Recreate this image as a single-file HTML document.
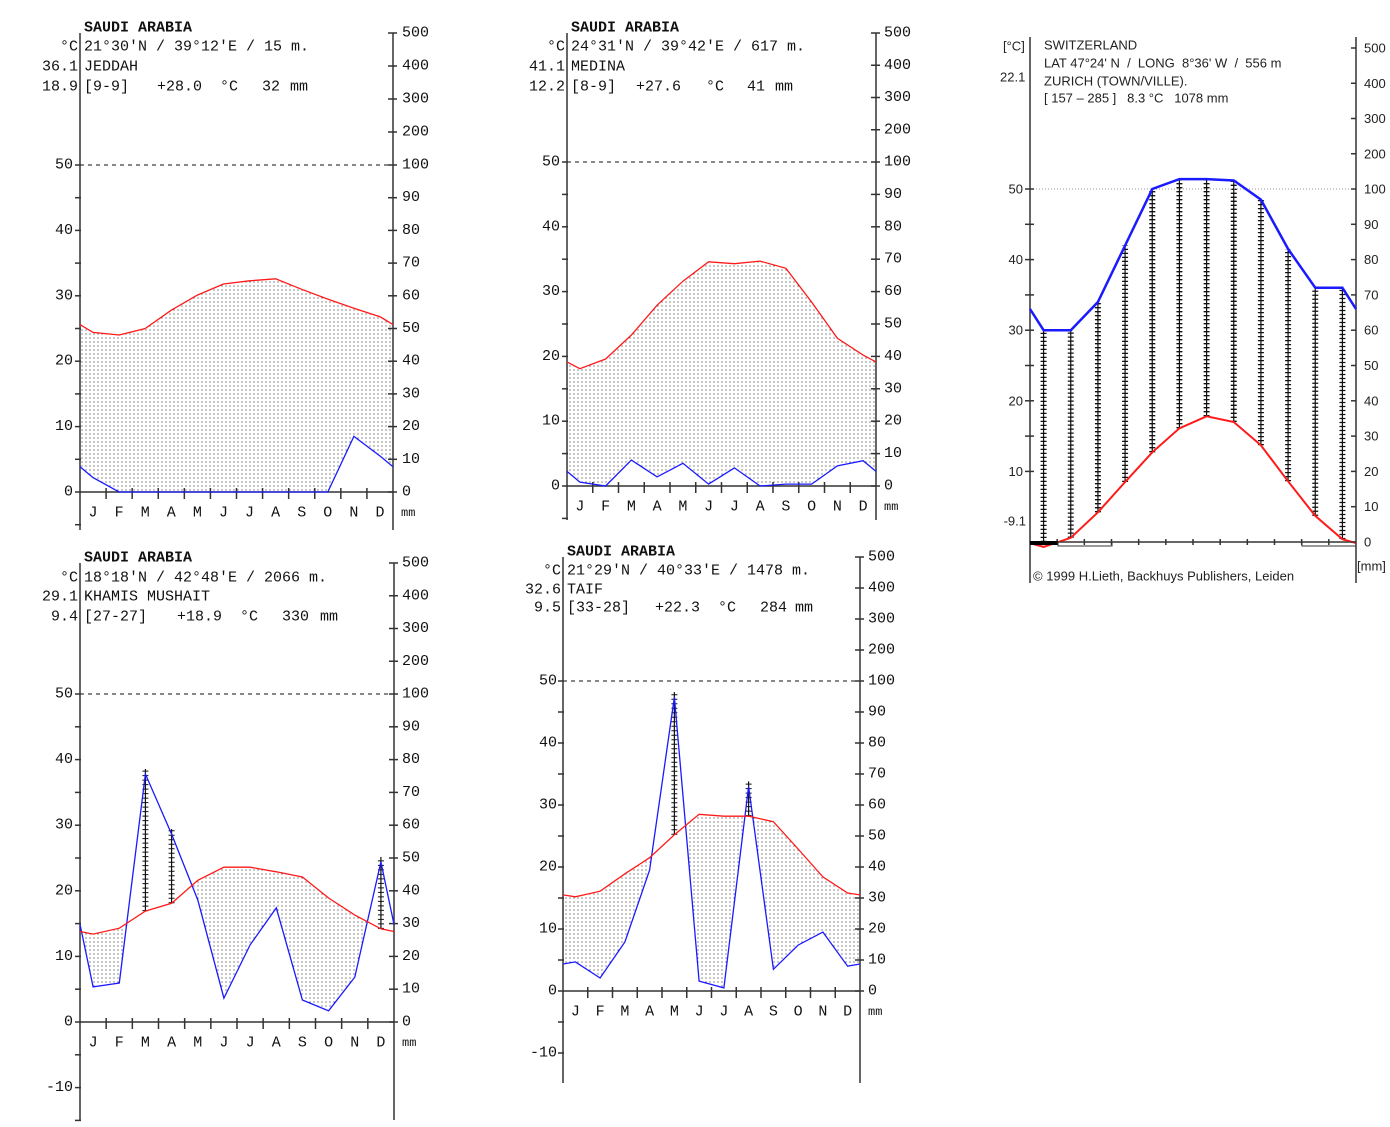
<!DOCTYPE html>
<html><head><meta charset="utf-8"><style>
html,body{margin:0;padding:0;background:#fff;}
svg{display:block;}
text{white-space:pre;}
.m{font-family:"Liberation Mono",monospace;font-size:15px;fill:#111;}
.b{font-weight:bold;}
.s{font-family:"Liberation Sans",sans-serif;font-size:13px;fill:#222;}
</style></head><body>
<svg id="c" width="1390" height="1127" viewBox="0 0 1390 1127" xmlns="http://www.w3.org/2000/svg">
<defs>
<pattern id="dots" width="4" height="4" patternUnits="userSpaceOnUse">
<rect x="1.5" y="1.5" width="1" height="1" fill="#222"/>
</pattern>
</defs>
</svg>
<script>
const months = ["J","F","M","A","M","J","J","A","S","O","N","D"];
const jeddahTemp = [24.4,24.0,25.0,27.8,30.1,31.8,32.3,32.6,31.0,29.5,28.1,26.8];
const jeddahPrec = [4.4,0,0,0,0,0,0,0,0,0,17,11];
const medinaTemp = [18.1,19.6,23.3,27.9,31.6,34.6,34.3,34.7,33.6,28.4,22.8,20.2];
const medinaPrec = [1.2,0,8,2.8,7,0.6,5.6,0,0.6,0.6,6.2,7.8];
const khamisTemp = [13.4,14.3,16.9,18.1,21.6,23.6,23.6,22.9,22.1,18.9,16.3,14.2];
const khamisPrec = [10.7,11.9,75.6,57.3,37.2,7.3,23.5,34.8,6.7,3.4,13.7,48.8];
const taifTemp = [15.2,16.1,18.9,21.5,25.2,28.5,28.2,28.2,27.3,22.9,18.4,15.8];
const taifPrec = [9.4,4.2,15.8,39,94.8,3.2,1,66,7,14.8,19,8];
const zurichTemp = [-0.7,0.6,4.2,8.5,12.7,16.1,17.8,17.0,13.7,8.6,3.7,0.4];
const zurichPrec = [60,60,68,84,100,128,128,124,97,83,72,72];
const leftTicks = [-10,0,10,20,30,40,50];
const rightTicksLow = [0,10,20,30,40,50,60,70,80,90,100];
const rightTicksHigh = [200,300,400,500];

const NS="http://www.w3.org/2000/svg";
const svg=document.getElementById('c');
function el(tag,attrs,parent,text){const e=document.createElementNS(NS,tag);for(const k in attrs)e.setAttribute(k,attrs[k]);if(text!==undefined)e.textContent=text;(parent||svg).appendChild(e);return e;}

function draw(cfg){
  const g=el('g',{});
  
  
  const w=(cfg.x1-cfg.x0)/12;
  const ppd=(cfg.y0-cfg.y50)/50;
  const yT=t=>cfg.y0-t*ppd;
  const yP=p=>p<=100?cfg.y0-p/2*ppd:cfg.y50-(p-100)/100*(cfg.y50-cfg.y500)/4;
  const xM=i=>cfg.x0+w*(i+0.5);
  const T=cfg.temp,P=cfg.prec;
  const te=(T[0]+T[11])/2, pe=(P[0]+P[11])/2;
  const tp=[[cfg.x0,yT(te)]].concat(T.map((t,i)=>[xM(i),yT(t)])).concat([[cfg.x1,yT(te)]]);
  const pp=[[cfg.x0,yP(pe)]].concat(P.map((p,i)=>[xM(i),yP(p)])).concat([[cfg.x1,yP(pe)]]);
  const pts=a=>a.map(p=>p[0].toFixed(1)+','+p[1].toFixed(1)).join(' ');
  if(!cfg.zurich){
    const dry=el('polygon',{points:pts(tp)+' '+cfg.x1+','+cfg.y0+' '+cfg.x0+','+cfg.y0,fill:'url(#dots)'},g);
    
    
    el('polygon',{points:pts(pp)+' '+cfg.x1+','+cfg.y0+' '+cfg.x0+','+cfg.y0,fill:'#fff'},g);
  }
  T.forEach((t,i)=>{
    if(P[i]/2>t){
      const x=xM(i), ya=Math.min(yT(Math.max(t,0)),cfg.y0), yb=yP(P[i]);
      const top=cfg.zurich?yb:yb-5;
      const h=el('line',{x1:x,x2:x,y1:ya,y2:top,stroke:'#111','stroke-width':1.2},g);
      
      
      el('line',{x1:x,x2:x,y1:ya,y2:top,stroke:'#111','stroke-width':cfg.zurich?6:6,'stroke-dasharray':cfg.zurich?'1.3 2.7':'1 3.5'},g);
    }
  });
  el('line',{x1:cfg.x0,x2:cfg.x1,y1:cfg.y50,y2:cfg.y50,stroke:cfg.zurich?'#999':'#111','stroke-width':1,'stroke-dasharray':cfg.zurich?'1 2':'4 4'},g);
  el('line',{x1:cfg.x0,x2:cfg.x0,y1:cfg.axTop,y2:cfg.axBot,stroke:'#333','stroke-width':1.5},g);
  el('line',{x1:cfg.x1,x2:cfg.x1,y1:cfg.axTop,y2:cfg.axBot,stroke:'#333','stroke-width':1.5},g);
  el('line',{x1:cfg.x0,x2:cfg.x1,y1:cfg.y0,y2:cfg.y0,stroke:'#333','stroke-width':1.5},g);
  for(let t=cfg.minT;t<=50;t+=5){
    el('line',{x1:cfg.x0-5,x2:cfg.x0+(cfg.zurich?4:1),y1:yT(t),y2:yT(t),stroke:'#333','stroke-width':1.5},g);
  }
  leftTicks.forEach(t=>{
    if(t<cfg.minLabel||(cfg.zurich&&t<10))return;
    const tx=el('text',{x:cfg.lx,y:yT(t),'text-anchor':'end','dominant-baseline':'central',class:cfg.zurich?'s':'m'},g,String(t));
    
    
  });
  rightTicksLow.concat(rightTicksHigh).forEach(p=>{
    el('line',{x1:cfg.x1-5,x2:cfg.x1+(cfg.zurich?0:4),y1:yP(p),y2:yP(p),stroke:'#333','stroke-width':1.5},g);
    const tx=el('text',{x:cfg.rx,y:yP(p),'dominant-baseline':'central',class:cfg.zurich?'s':'m'},g,String(p));
    
    
  });
  for(let i=1;i<12;i++){
    const x=cfg.x0+w*i;
    el('line',{x1:x,x2:x,y1:cfg.y0-(cfg.zurich?3:4),y2:cfg.y0+(cfg.zurich?3:7),stroke:'#333','stroke-width':1.5},g);
  }
  if(!cfg.zurich){
    months.forEach((m,i)=>{
      const tx=el('text',{x:xM(i),y:cfg.y0+21,'text-anchor':'middle','dominant-baseline':'central',class:'m'},g,m);
      
      
    });
    el('text',{x:cfg.x1+8,y:cfg.y0+21,'dominant-baseline':'central',class:'m',style:'font-size:12px'},g,'mm');
  }
  const pl=el('polyline',{points:pts(pp),fill:'none',stroke:'#1a1aff','stroke-width':cfg.zurich?2.5:1.3},g);
  
  
  const tl=el('polyline',{points:pts(tp),fill:'none',stroke:'#ff1a1a','stroke-width':cfg.zurich?2:1.3},g);
  
  
  cfg.text.forEach(t=>{
    const tx=el('text',{x:t[0],y:t[1],'dominant-baseline':'central',class:t[3]||'m','text-anchor':t[4]||'start'},g,t[2]);
    
    
  });
  return g;
}

function saudiText(xl,xr,ys,title,coords,max,city,min,vals){
  return [[xr,ys[0],title,'m b'],[xl,ys[1],'°C','m','end'],[xr,ys[1],coords],
    [xl,ys[2],max,'m','end'],[xr,ys[2],city],[xl,ys[3],min,'m','end'],
    [xr,ys[3],vals[0]],[vals[1],ys[3],vals[2]],[vals[3],ys[3],'°C'],[vals[4],ys[3],vals[5]],[vals[6],ys[3],'mm','m']];
}

draw({name:'jeddah-diagram',x0:80,x1:393,y0:492,y50:165,y500:33,axTop:33,axBot:530,minT:-5,minLabel:0,lx:73,rx:402,temp:jeddahTemp,prec:jeddahPrec,
  text:saudiText(78,84,[28,47,67,87],'SAUDI ARABIA',"21°30'N / 39°12'E / 15 m.",'36.1','JEDDAH','18.9',['[9-9]',157,'+28.0',220,262,'32',290])});
draw({name:'medina-diagram',x0:567,x1:876,y0:486,y50:162,y500:33,axTop:33,axBot:520,minT:-5,minLabel:0,lx:560,rx:884,temp:medinaTemp,prec:medinaPrec,
  text:saudiText(565,571,[28,47,67,87],'SAUDI ARABIA',"24°31'N / 39°42'E / 617 m.",'41.1','MEDINA','12.2',['[8-9]',636,'+27.6',706,747,'41',775])});
draw({name:'khamis-mushait-diagram',x0:80,x1:394,y0:1022,y50:694,y500:563,axTop:563,axBot:1120,minT:-15,minLabel:-10,lx:73,rx:402,temp:khamisTemp,prec:khamisPrec,
  text:saudiText(78,84,[558,578,597,617],'SAUDI ARABIA',"18°18'N / 42°48'E / 2066 m.",'29.1','KHAMIS MUSHAIT','9.4',['[27-27]',177,'+18.9',240,282,'330',320])});
draw({name:'taif-diagram',x0:563,x1:860,y0:991,y50:681,y500:557,axTop:557,axBot:1083,minT:-10,minLabel:-10,lx:557,rx:868,temp:taifTemp,prec:taifPrec,
  text:saudiText(561,567,[552,571,590,608],'SAUDI ARABIA',"21°29'N / 40°33'E / 1478 m.",'32.6','TAIF','9.5',['[33-28]',655,'+22.3',718,760,'284',795])});
draw({name:'zurich-diagram',zurich:true,x0:1030,x1:1356,y0:542,y50:189,y500:48,axTop:37,axBot:583,minT:10,minLabel:10,lx:1023,rx:1364,temp:zurichTemp,prec:zurichPrec,
  text:[[1003,46,'[°C]','s'],[1000,77,'22.1','s'],[1044,45,'SWITZERLAND','s'],[1044,63,"LAT 47°24' N  /  LONG  8°36' W  /  556 m",'s'],
    [1044,81,'ZURICH (TOWN/VILLE).','s'],[1044,98,'[ 157 – 285 ]   8.3 °C   1078 mm','s'],[1026,521,'-9.1','s','end'],
    [1357,566,'[mm]','s'],[1033,576,'© 1999 H.Lieth, Backhuys Publishers, Leiden','s']]});
el('rect',{x:1030,y:541,width:28,height:4,fill:'#000'});
el('rect',{x:1058,y:542,width:54,height:4,fill:'none',stroke:'#333','stroke-width':1});
el('rect',{x:1302,y:542,width:54,height:4,fill:'none',stroke:'#333','stroke-width':1});
</script>
</body></html>
